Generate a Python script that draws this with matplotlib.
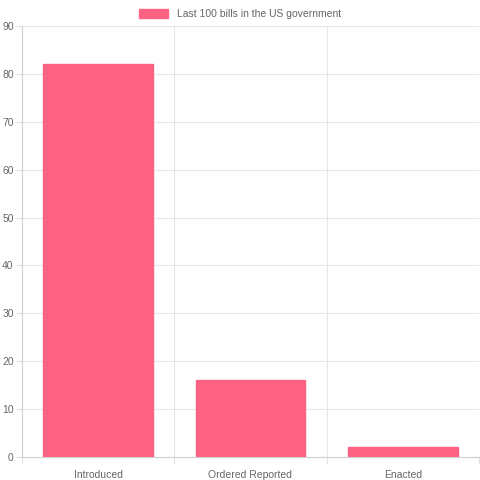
import matplotlib
matplotlib.use("Agg")
import matplotlib.pyplot as plt
from matplotlib.patches import Patch

categories = ["Introduced", "Ordered Reported", "Enacted"]
values = [82, 16, 2]
label = "Last 100 bills in the US government"

plt.rcParams['font.family'] = ['Liberation Sans', 'DejaVu Sans']
fig = plt.figure(figsize=(4.8, 4.8), dpi=100)
ax = fig.add_axes([22/480, 23/480, 457/480, 431/480])
x = range(len(categories))
ax.bar(x, values, width=0.72, color="#ff6384", edgecolor="#ff6384", zorder=3)
ax.set_xlim(-0.5, len(categories) - 0.5)
ax.set_ylim(0, 90)
ax.set_yticks(range(0, 91, 10))
ax.set_xticks(list(x))
ax.set_xticklabels(categories)
ax.tick_params(axis='both', labelsize=7.5, colors="#666666", length=0)
ax.tick_params(axis='x', pad=9)
ax.tick_params(axis='y', pad=2, length=4, color="#e0e0e0", labelcolor="#666666")
ax.grid(axis='y', color="#e6e6e6", linewidth=0.8, zorder=0)
for b in [0.5, 1.5]:
    ax.axvline(b, color="#e6e6e6", linewidth=0.8, zorder=0)
for b in [-0.5, 0.5, 1.5, 2.5]:
    ax.plot([b, b], [0, -1.3], color="#e0e0e0", linewidth=0.8, clip_on=False)
for s in ["top", "right"]:
    ax.spines[s].set_visible(False)
for s in ["left", "bottom"]:
    ax.spines[s].set_color("#d0d0d0")
    ax.spines[s].set_linewidth(0.8)
fig.legend(handles=[Patch(facecolor="#ff6384", edgecolor="#ff6384")], labels=[label],
           loc="upper center", bbox_to_anchor=(0.5, 1.0), frameon=False, fontsize=7.5,
           handlelength=2.8, handleheight=0.9, labelcolor="#666666")
fig.savefig("out.png", dpi=100)
